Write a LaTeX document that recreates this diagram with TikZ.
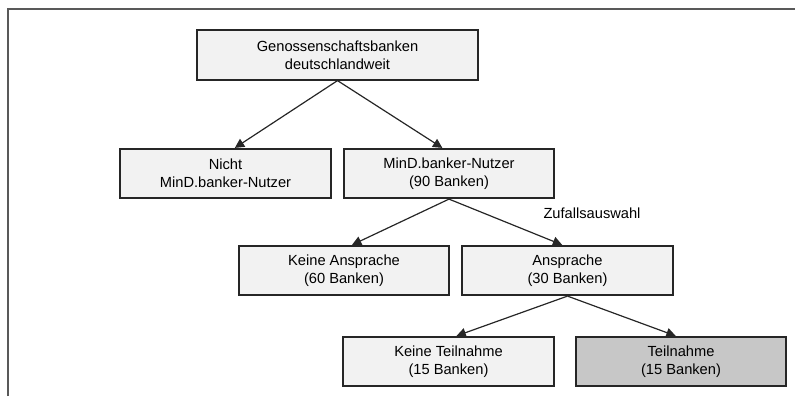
\documentclass[tikz,border=0pt]{standalone}
\usepackage{fontspec}
\setmainfont{Liberation Sans}
\usepackage{tikz}
\usetikzlibrary{arrows.meta}

\begin{document}
\begin{tikzpicture}[x=0.75pt,y=-0.75pt,
    stufe/.style={draw=black!85,line width=1.4pt,fill=black!5,align=center,
      minimum width=158pt,minimum height=37pt,inner sep=2pt,
      font=\fontsize{11}{13.2}\selectfont},
    auswahl/.style={stufe,fill=black!22},
    pfeil/.style={-{Triangle[length=7pt,width=7pt]},line width=0.9pt,draw=black!85}]
    \useasboundingbox (0,0) rectangle (795,396);
    \draw[black!65,line width=1.2pt] (8,396) -- (8,9) -- (795,9);
    \node[stufe,minimum width=211pt] (gesamt) at (337.5,55) {Genossenschaftsbanken\\deutschlandweit};
    \node[stufe] (nicht) at (225.5,173.5) {Nicht\\MinD.banker-Nutzer};
    \node[stufe] (nutzer) at (449,173.5) {MinD.banker-Nutzer\\(90 Banken)};
    \node[stufe] (keineansp) at (344,270.5) {Keine Ansprache\\(60 Banken)};
    \node[stufe] (ansp) at (567.5,270.5) {Ansprache\\(30 Banken)};
    \node[stufe] (keineteil) at (448.5,361.5) {Keine Teilnahme\\(15 Banken)};
    \node[auswahl] (teil) at (681,361.5) {Teilnahme\\(15 Banken)};
    \node[font=\fontsize{11}{13.2}\selectfont] (zufall) at (592,213) {Zufallsauswahl};
    \draw[pfeil] (gesamt.south) -- ([xshift=7pt]nicht.north);
    \draw[pfeil] (gesamt.south) -- ([xshift=-5pt]nutzer.north);
    \draw[pfeil] (nutzer.south) -- ([xshift=6pt]keineansp.north);
    \draw[pfeil] (nutzer.south) -- ([xshift=-4pt]ansp.north);
    \draw[pfeil] (ansp.south) -- ([xshift=6pt]keineteil.north);
    \draw[pfeil] (ansp.south) -- ([xshift=-4pt]teil.north);
\end{tikzpicture}
\end{document}
